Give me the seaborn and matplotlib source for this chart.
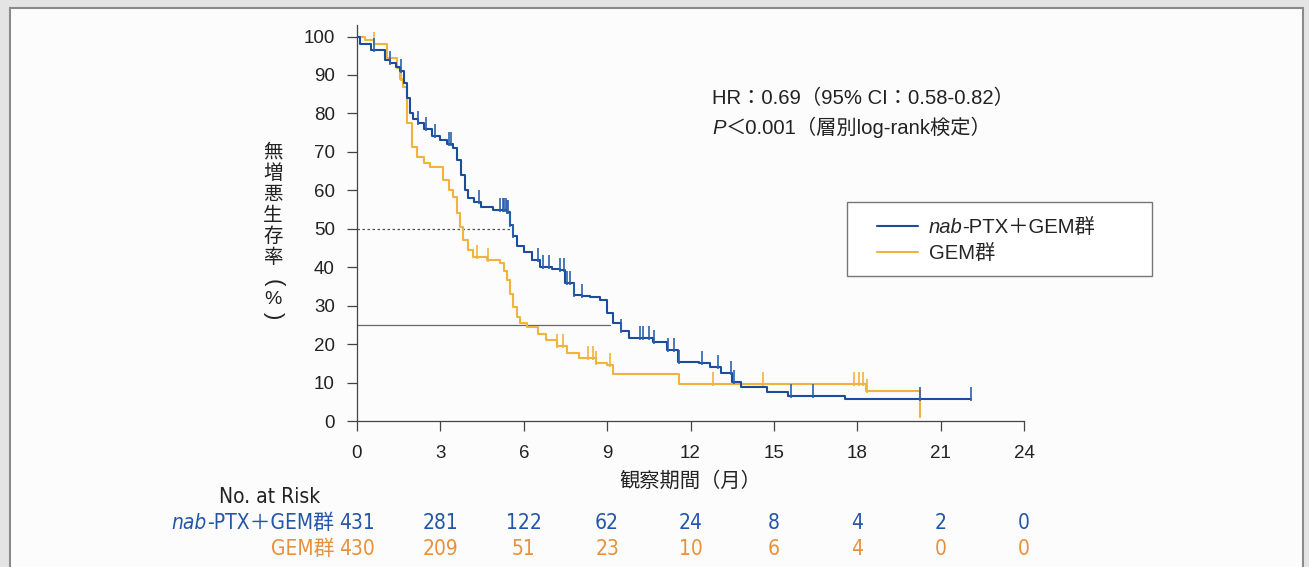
import numpy as np
import pandas as pd
import seaborn as sns
import matplotlib.pyplot as plt
from matplotlib import font_manager as fm
from matplotlib.patches import Rectangle
from matplotlib.lines import Line2D

# nab-PTX+GEM arm: step points (months, %)
nab_time = [0, 0.1, 0.5, 1.0, 1.2, 1.4, 1.55, 1.7, 1.8, 1.9, 2.0, 2.2, 2.4, 2.7, 3.0,
            3.25, 3.45, 3.6, 3.75, 3.9, 4.0, 4.2, 4.45, 4.9, 5.4, 5.5, 5.6, 5.75, 6.0,
            6.3, 6.6, 7.0, 7.3, 7.5, 7.8, 8.1, 8.4, 8.75, 9.0, 9.2, 9.5, 9.8, 10.5,
            10.65, 11.15, 11.55, 12.3, 12.7, 13.1, 13.5, 13.8, 14.75, 15.5, 17.55, 22.1]
nab_surv = [100, 98, 96.5, 94, 93, 92, 91, 88, 84, 80, 78.5, 77.4, 76, 74, 73,
            72, 71, 68, 64, 60, 58, 57, 55.6, 54.8, 54.3, 51, 48, 45.5, 44,
            42, 40, 39.5, 39.2, 36, 32.7, 32.4, 32.2, 31.4, 28, 25.4, 23.5, 21.6, 21.6,
            20.5, 18.4, 15.3, 15, 14, 12.5, 10.1, 8.8, 7.6, 6.6, 5.8, 5.8]
nab_cens = [0.6, 1.2, 1.6, 2.2, 2.5, 2.8, 3.3, 3.4, 4.4, 5.15, 5.25, 5.3, 5.35, 5.4,
            5.45, 5.5, 5.6, 6.5, 6.7, 6.9, 7.3, 7.45, 7.55, 7.65, 7.8, 8.1, 9.5, 10.2,
            10.3, 10.5, 10.7, 11.2, 11.4, 11.6, 12.4, 13.0, 13.45, 13.55, 15.6, 16.4,
            20.25, 22.1]

# GEM arm
gem_time = [0, 0.3, 0.6, 1.08, 1.44, 1.55, 1.65, 1.8, 1.98, 2.16, 2.4, 2.63, 3.1, 3.3,
            3.45, 3.6, 3.7, 3.8, 4.0, 4.17, 4.67, 5.14, 5.3, 5.4, 5.5, 5.6, 5.75, 5.86,
            6.1, 6.5, 6.8, 7.2, 7.55, 8.0, 8.6, 8.98, 9.2, 11.6, 18.3, 20.25]
gem_surv = [100, 99, 98, 94.5, 91.7, 89, 86.8, 77.4, 71.2, 68.6, 67, 66, 62.6, 60,
            58.2, 54, 50.4, 47, 44.5, 42.6, 41.8, 41, 39, 36.6, 33, 29.6, 27, 25.4,
            24.4, 22.5, 21, 19.5, 17.7, 16.4, 15, 14.5, 12.3, 9.5, 7.8, 1.0]
gem_cens = [0.6, 1.6, 4.3, 4.7, 7.2, 7.4, 8.3, 8.5, 8.6, 9.1, 12.8, 14.6, 17.9, 18.05,
            18.2, 18.35]

risk_months = [0, 3, 6, 9, 12, 15, 18, 21, 24]
risk_nab = [431, 281, 122, 62, 24, 8, 4, 2, 0]
risk_gem = [430, 209, 51, 23, 10, 6, 4, 0, 0]

nab_median = 5.5   # where the nab curve crosses 50 %
nab_q25 = 9.1      # where the nab curve crosses 25 %

blue = "#1c4c9c"
orange = "#f0b33c"
blue_txt = "#2256a8"
orange_txt = "#e8903a"
ink = "#222222"
FS = 14
FS_NOTE = 14.6
latin_jp = ["Liberation Sans", "Noto Sans CJK JP", "DejaVu Sans"]
jp = ["Noto Sans CJK JP", "DejaVu Sans"]

sns.set_theme(style="ticks")
plt.rcParams["font.family"] = latin_jp

# the risk table in the original is set in a condensed face; use one if there is any
tbl = dict(family=latin_jp, size=14)
for f in fm.fontManager.ttflist:
    tag = (f.name + " " + str(f.stretch)).lower()
    if ("narrow" in tag or "condensed" in tag) and "semi" not in tag \
            and f.style == "normal" and f.weight in (400, "normal", "regular"):
        tbl = dict(family=[f.name, "Noto Sans CJK JP"], stretch=f.stretch, size=15)
        break


def step_at(times, surv, t):
    i = np.searchsorted(times, t, side="right") - 1
    return surv[max(i, 0)]


def chain(prev, s, **kw):
    # put text s right after the text artist prev, on the same baseline
    return fig.add_artist(plt.Annotation(s, xy=(1, 0), xycoords=prev, ha="left",
                                         va="bottom", **kw))


nab_df = pd.DataFrame({"month": nab_time, "pfs": nab_surv})
gem_df = pd.DataFrame({"month": gem_time, "pfs": gem_surv})
nab_c = pd.DataFrame({"month": nab_cens,
                      "pfs": [step_at(nab_time, nab_surv, t) + 1.3 for t in nab_cens]})
gem_c = pd.DataFrame({"month": gem_cens,
                      "pfs": [step_at(gem_time, gem_surv, t) + 1.3 for t in gem_cens]})

fig = plt.figure(figsize=(13.09, 5.67), dpi=100, facecolor="#e4e4e4")
fig.patches.append(Rectangle((10 / 1309, -0.05), 1293 / 1309, 1.05 - 8 / 567,
                             transform=fig.transFigure, facecolor="#fcfcfc",
                             edgecolor="#8a8a8a", lw=1.5, zorder=-5))
ax = fig.add_axes([357 / 1309, 1 - 421 / 567, 667 / 1309, 396 / 567])
ax.set_facecolor("none")
ax.set_zorder(2)

# reference lines at 50 % and 25 %
ax.plot([0, nab_median], [50, 50], color="#555555", lw=0.9, ls=(0, (2, 2)), zorder=1)
ax.plot([0, nab_q25], [25, 25], color="#666666", lw=0.9, zorder=1)

sns.lineplot(data=gem_df, x="month", y="pfs", ax=ax, color=orange, lw=1.5,
             drawstyle="steps-post", estimator=None, zorder=2)
sns.lineplot(data=nab_df, x="month", y="pfs", ax=ax, color=blue, lw=1.5,
             drawstyle="steps-post", estimator=None, zorder=3)
sns.scatterplot(data=gem_c, x="month", y="pfs", ax=ax, marker="|", s=90,
                color=orange, linewidth=1.2, zorder=2)
sns.scatterplot(data=nab_c, x="month", y="pfs", ax=ax, marker="|", s=90,
                color="#2a62b0", linewidth=1.2, zorder=3)

ax.set_xlim(0, 24)
ax.set_ylim(0, 103)
ax.set_xticks(risk_months)
ax.set_yticks(range(0, 101, 10))
ax.tick_params(axis="both", labelsize=13.5, length=7, width=0.9, color="#444444",
               labelcolor=ink)
ax.tick_params(axis="x", pad=10)
ax.tick_params(axis="y", pad=9)
for side in ["top", "right"]:
    ax.spines[side].set_visible(False)
for side in ["left", "bottom"]:
    ax.spines[side].set_color("#444444")
    ax.spines[side].set_linewidth(0.9)
ax.set_xlabel("")
ax.set_ylabel("")

# axis titles
fig.text(690 / 1309, 1 - 481 / 567, "観察期間（月）", family=jp, fontsize=FS_NOTE,
         ha="center", va="center", color=ink)
fig.text(273 / 1309, 1 - 205 / 567, "無\n増\n悪\n生\n存\n率", family=jp,
         fontsize=FS, ha="center", va="center", linespacing=1.0, color=ink)
fig.text(273 / 1309, 1 - 283 / 567, "(", fontsize=16, rotation=-90,
         ha="center", va="center", color=ink)
fig.text(273 / 1309, 1 - 299 / 567, "%", fontsize=FS, ha="center", va="center",
         color=ink)
fig.text(273 / 1309, 1 - 316 / 567, ")", fontsize=16, rotation=-90,
         ha="center", va="center", color=ink)

# statistics
fig.text(712 / 1309, 1 - 98 / 567, "HR：0.69（95% CI：0.58-0.82）",
         fontsize=FS_NOTE, ha="left", va="center", color=ink)
p_txt = fig.text(712 / 1309, 1 - 128 / 567, "P", style="italic",
                 fontsize=FS_NOTE, ha="left", va="center", color=ink)
chain(p_txt, "＜0.001（層別log-rank検定）", fontsize=FS_NOTE, color=ink)

# legend
fig.patches.append(Rectangle((847 / 1309, 1 - 276 / 567), 305 / 1309, 74 / 567,
                             transform=fig.transFigure, facecolor="white",
                             edgecolor="#777777", lw=1.0, zorder=5))
handles = [Line2D([], [], color=blue, lw=1.5), Line2D([], [], color=orange, lw=1.5)]
leg = fig.legend(handles, ["nab", "GEM群"], loc="upper left",
                 bbox_to_anchor=(877 / 1309, 1 - 218 / 567), frameon=False,
                 prop={"size": FS_NOTE}, handlelength=2.0, handletextpad=0.55,
                 labelspacing=0.35, borderpad=0, borderaxespad=0)
leg.set_zorder(6)
leg.get_texts()[0].set_style("italic")
chain(leg.get_texts()[0], "-PTX＋GEM群", fontsize=FS_NOTE, color=ink, zorder=7)

# number at risk table
trans = ax.get_xaxis_transform()
fig.text(320 / 1309, 1 - 497 / 567, "No. at Risk", ha="right", va="center",
         color=ink, **tbl)
rest = fig.text(334 / 1309, 1 - 523 / 567, "-PTX＋GEM群", ha="right", va="center",
                color=blue_txt, **tbl)
fig.add_artist(plt.Annotation("nab", xy=(0, 0), xycoords=rest, ha="right", va="bottom",
                              style="italic", color=blue_txt, **tbl))
fig.text(334 / 1309, 1 - 549 / 567, "GEM群", ha="right", va="center",
         color=orange_txt, **tbl)
y_nab = (1 - 523 / 567 - (1 - 421 / 567)) / (396 / 567)
y_gem = (1 - 549 / 567 - (1 - 421 / 567)) / (396 / 567)
for m, a, b in zip(risk_months, risk_nab, risk_gem):
    ax.text(m, y_nab, str(a), transform=trans, ha="center", va="center",
            color=blue_txt, clip_on=False, **tbl)
    ax.text(m, y_gem, str(b), transform=trans, ha="center", va="center",
            color=orange_txt, clip_on=False, **tbl)

fig.savefig("out.png", dpi=100, facecolor=fig.get_facecolor())
